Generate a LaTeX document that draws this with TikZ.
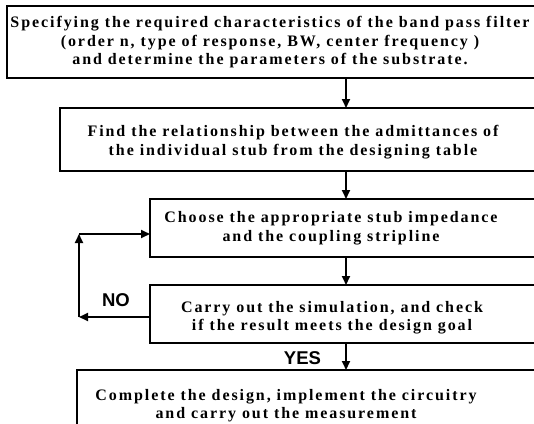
\documentclass[tikz,border=0pt]{standalone}
\usepackage{fontspec}
\setmainfont{Liberation Serif}
\newfontfamily\boxfont[LetterSpace=12]{Liberation Serif}
\newfontfamily\labfont{Liberation Sans}
\usetikzlibrary{arrows.meta}
\begin{document}
\begin{tikzpicture}[x=1pt,y=-1pt,
  box/.style={draw,line width=1.2pt,rectangle,inner sep=0pt,outer sep=0pt},
  txt/.style={align=center,inner sep=0pt,font=\boxfont\bfseries\fontsize{16}{18.5}\selectfont},
  lab/.style={inner sep=0pt,font=\labfont\bfseries\fontsize{18.5}{20}\selectfont},
  arr/.style={line width=1.8pt,-{Triangle[length=9pt,width=8pt]}}]
\useasboundingbox (0,0) rectangle (534,423);
\clip (0,0) rectangle (534,423);
\node[box,minimum width=538pt,minimum height=72pt] (b1) at (276,42) {};
\node[box,minimum width=485pt,minimum height=63pt] (b2) at (302.5,139.5) {};
\node[box,minimum width=395pt,minimum height=58pt] (b3) at (347.5,228) {};
\node[box,minimum width=395pt,minimum height=58pt] (b4) at (347.5,314) {};
\node[box,minimum width=468pt,minimum height=70pt] (b5) at (311,405) {};
\node[txt] (t1) at (270,42.5) {Specifying the required characteristics of the band pass filter\\(order n, type of response, BW, center frequency )\\and determine the parameters of the substrate.};
\node[txt] (t2) at (293,142) {Find the relationship between the admittances of\\the individual stub from the designing table};
\node[txt] (t3) at (331,228) {Choose the appropriate stub impedance\\and the coupling stripline};
\node[txt] (t4) at (332,317.5) {Carry out the simulation, and check\\if the result meets the design goal};
\node[txt] (t5) at (286,405.5) {Complete the design, implement the circuitry\\and carry out the measurement};
\coordinate (ax) at (346,0);
\coordinate (c1) at (79,317);
\coordinate (c2) at (79,234);
\draw[arr] (b1.south -| ax) -- (b2.north -| ax);
\draw[arr] (b2.south -| ax) -- (b3.north -| ax);
\draw[arr] (b3.south -| ax) -- (b4.north -| ax);
\draw[arr] (b4.south -| ax) -- (b5.north -| ax);
\draw[arr] (b4.west |- c1) -- (c1);
\draw[arr] (c1) -- (c2);
\draw[arr] (c2) -- (b3.west |- c2);
\node[lab] (no) at (116,300) {NO};
\node[lab] (yes) at (302.5,358) {YES};
\end{tikzpicture}
\end{document}
